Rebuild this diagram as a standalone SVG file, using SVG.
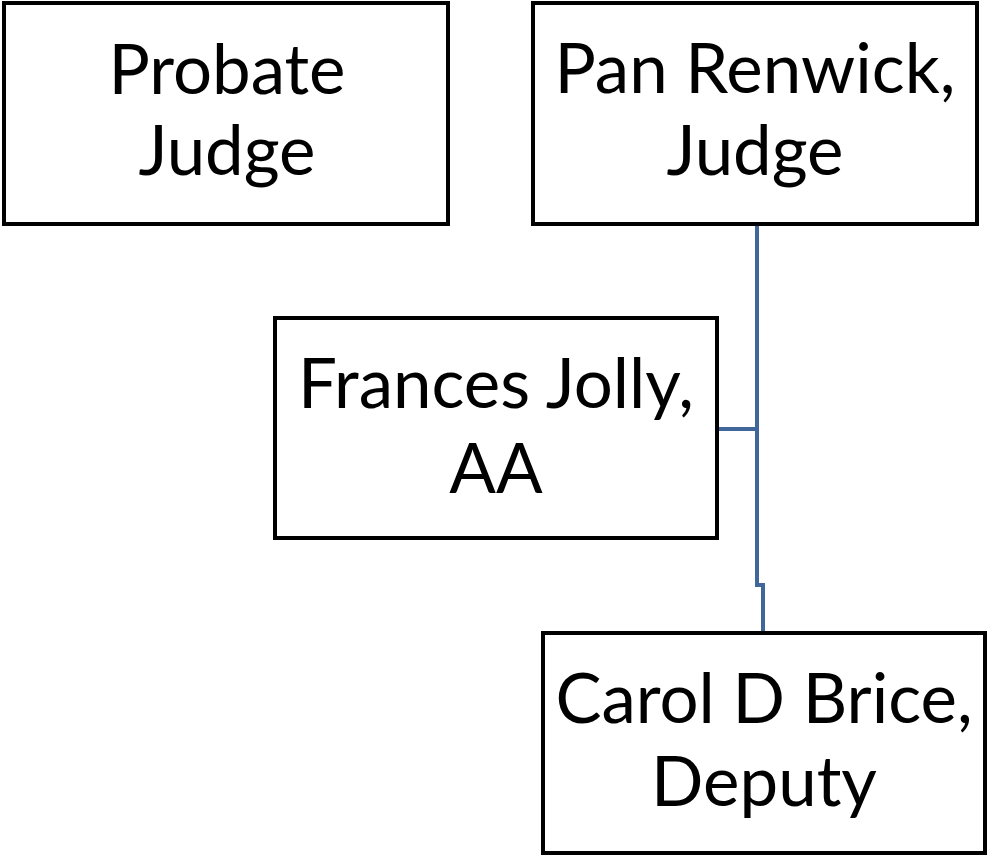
<svg xmlns="http://www.w3.org/2000/svg" width="987" height="855" viewBox="0 0 987 855">
<style>
.box{fill:#fff;stroke:#000;stroke-width:4}
.t{font-family:Lato,"Open Sans","Liberation Sans",sans-serif;font-size:69px;fill:#000;text-anchor:middle}
.c{fill:none;stroke:#41679a;stroke-width:4}
</style>
<rect width="987" height="855" fill="#fff"/>
<g id="connectors">
<path class="c" d="M757 224 V585 H763 V633"/>
<path class="c" d="M717 429 H757"/>
</g>
<g id="probate-judge">
<rect class="box" x="4" y="3" width="444" height="221"/>
<text class="t" x="227" y="94">Probate</text>
<text class="t" x="227" y="175">Judge</text>
</g>
<g id="pan-renwick">
<rect class="box" x="533" y="3" width="444" height="221"/>
<text class="t" x="755" y="93">Pan Renwick,</text>
<text class="t" x="755" y="175">Judge</text>
</g>
<g id="frances-jolly">
<rect class="box" x="275" y="318" width="442" height="220"/>
<text class="t" x="496" y="408">Frances Jolly,</text>
<text class="t" x="496" y="493">AA</text>
</g>
<g id="carol-brice">
<rect class="box" x="543" y="633" width="442" height="220"/>
<text class="t" x="764" y="723">Carol D Brice,</text>
<text class="t" x="764" y="806">Deputy</text>
</g>
</svg>
